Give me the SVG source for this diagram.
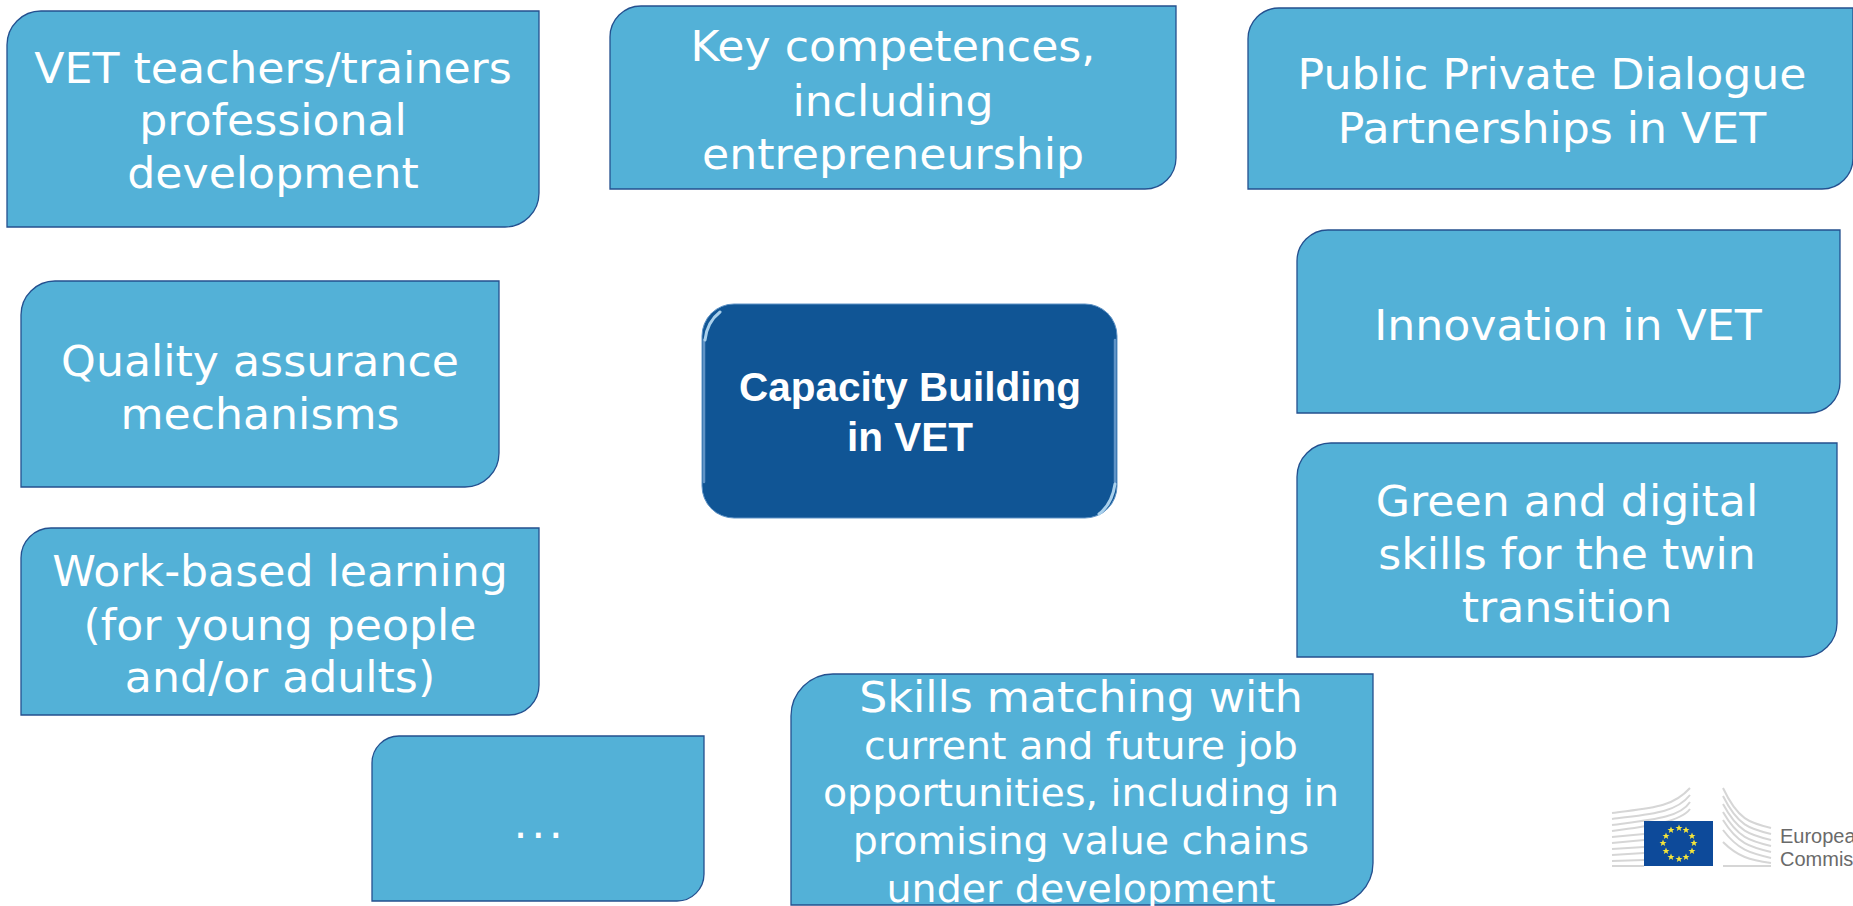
<svg xmlns="http://www.w3.org/2000/svg" xmlns:xlink="http://www.w3.org/1999/xlink" width="1853" height="906" viewBox="0 0 1853 906">
<style>
.b{fill:#53b1d7;stroke:#24508f;stroke-width:1.3}
.t{font-family:"DejaVu Sans",Verdana,sans-serif;font-size:42.5px;fill:#fff;text-anchor:middle}
.s{font-size:38px}
.c{font-family:"Liberation Sans",Arial,sans-serif;font-weight:700;font-size:40.5px;fill:#fff;text-anchor:middle}
.g{fill:none;stroke:#d6d6d6;stroke-width:2}
.e{font-family:"Liberation Sans",Arial,sans-serif;font-size:20px;fill:#6a6a6a}
.gl{fill:none;stroke-linecap:round}
</style>
<defs>
<polygon id="star" points="0,-3.6 1,-1.1 3.5,-1.1 1.5,.5 2.2,3 0,1.5 -2.2,3 -1.5,.5 -3.5,-1.1 -1,-1.1" fill="#f5e43a"/>
</defs>
<g id="connectors"/>
<g id="n1"><path class="b" d="M7 227V45a34 34 0 0 1 34-34H539V193a34 34 0 0 1-34 34Z"/>
<g transform="translate(273,0) scale(1.04,1)" class="t"><text y="83">VET teachers/trainers</text><text y="135">professional</text><text y="188">development</text></g></g>
<g id="n2"><path class="b" d="M610 189V37a31 31 0 0 1 31-31H1176V158a31 31 0 0 1-31 31Z"/>
<g transform="translate(893,0) scale(1.04,1)" class="t"><text y="61">Key competences,</text><text y="116">including</text><text y="169">entrepreneurship</text></g></g>
<g id="n3"><path class="b" d="M1248 189V39a31 31 0 0 1 31-31H1853V158a31 31 0 0 1-31 31Z"/>
<g transform="translate(1552,0) scale(1.04,1)" class="t"><text y="89">Public Private Dialogue</text><text y="143">Partnerships in VET</text></g></g>
<g id="n4"><path class="b" d="M21 487V315a34 34 0 0 1 34-34H499V453a34 34 0 0 1-34 34Z"/>
<g transform="translate(260,0) scale(1.04,1)" class="t"><text y="376">Quality assurance</text><text y="429">mechanisms</text></g></g>
<g id="n5"><path class="b" d="M21 715V558a30 30 0 0 1 30-30H539V685a30 30 0 0 1-30 30Z"/>
<g transform="translate(280,0) scale(1.04,1)" class="t"><text y="586">Work-based learning</text><text y="640">(for young people</text><text y="692">and/or adults)</text></g></g>
<g id="n6"><path class="b" d="M1297 413V261a31 31 0 0 1 31-31H1840V382a31 31 0 0 1-31 31Z"/>
<g transform="translate(1568,0) scale(1.04,1)" class="t"><text y="340">Innovation in VET</text></g></g>
<g id="n7"><path class="b" d="M1297 657V477a34 34 0 0 1 34-34H1837V623a34 34 0 0 1-34 34Z"/>
<g transform="translate(1567,0) scale(1.04,1)" class="t"><text y="516">Green and digital</text><text y="569">skills for the twin</text><text y="622">transition</text></g></g>
<g id="n8"><path class="b" d="M372 901V763a27 27 0 0 1 27-27H704V874a27 27 0 0 1-27 27Z"/>
<g transform="translate(540,0) scale(1.04,1)" class="t"><text y="838" letter-spacing="3.4">...</text></g></g>
<g id="n9"><path class="b" d="M791 905V716a42 42 0 0 1 42-42H1373V863a42 42 0 0 1-42 42Z"/>
<g transform="translate(1081,0) scale(1.04,1)" class="t"><text y="712">Skills matching with</text><text class="s" y="759">current and future job</text><text class="s" y="806">opportunities, including in</text><text class="s" y="854">promising value chains</text><text class="s" y="902">under development</text></g></g>
<g id="center"><rect x="702" y="304" width="415" height="214" rx="32" fill="#105595" stroke="#5f93c6" stroke-width="1"/>
<path class="gl" d="M704 340V482M1115 340V482" stroke="#5f93c6" stroke-width="2.5"/>
<path class="gl" d="M705 340Q707 322 720 312M1115 484Q1112 504 1099 514" stroke="#a9d0ec" stroke-width="3"/>
<g class="c"><text x="910" y="401">Capacity Building</text><text x="910" y="451">in VET</text></g></g>
<g id="logo">
<path class="g" d="M1612 813C1650 808 1672 808 1690 788M1612 819C1650 814 1676 813 1690 795M1612 825C1650 820 1680 818 1690 802M1612 831C1640 827 1680 823 1690 809M1612 837L1644 834M1612 843L1644 840M1612 849L1644 847M1612 855L1644 853M1612 861L1644 860M1612 866H1644"/>
<path class="g" d="M1723 788C1738 820 1750 823 1771 828M1723 796C1738 826 1750 829 1771 834M1723 804C1738 832 1750 835 1771 840M1723 812C1738 838 1750 841 1771 846M1723 820C1738 844 1750 847 1771 852M1723 830C1738 850 1750 853 1771 858M1723 842C1738 857 1750 860 1771 863M1723 866H1771"/>
<rect x="1644" y="821" width="69" height="45" fill="#0d4a9a"/>
<use xlink:href="#star" x="1679" y="828"/><use xlink:href="#star" x="1686" y="830"/><use xlink:href="#star" x="1692" y="836"/><use xlink:href="#star" x="1694" y="843"/><use xlink:href="#star" x="1692" y="851"/><use xlink:href="#star" x="1686" y="857"/><use xlink:href="#star" x="1679" y="859"/><use xlink:href="#star" x="1671" y="857"/><use xlink:href="#star" x="1666" y="851"/><use xlink:href="#star" x="1663" y="843"/><use xlink:href="#star" x="1666" y="836"/><use xlink:href="#star" x="1671" y="830"/>
<text class="e" x="1780" y="843">Europea</text><text class="e" x="1780" y="866">Commis</text>
</g>
</svg>
